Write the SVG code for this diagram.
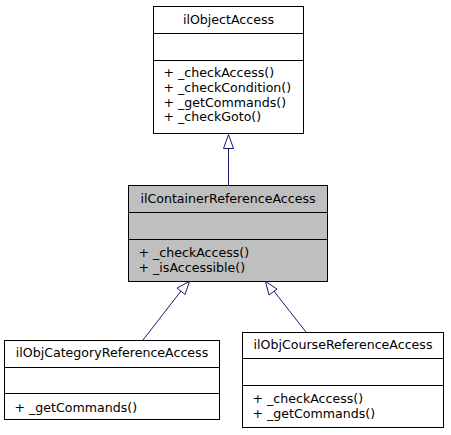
<svg xmlns="http://www.w3.org/2000/svg" width="451" height="435" viewBox="0 0 451 435">
<style>
.box{fill:#ffffff;stroke:#000000;stroke-width:1}
.cur{fill:#bfbfbf;stroke:#000000;stroke-width:1}
.sep{stroke:#000000;stroke-width:1}
text{font-family:"DejaVu Sans",sans-serif;font-size:12.6px;fill:#000000}
.t{text-anchor:middle}
.edge{stroke:#191970;stroke-width:1;fill:none}
.head{fill:#ffffff;stroke:#191970;stroke-width:1}
</style>
<rect width="451" height="435" fill="#ffffff"/>
<g id="ilObjectAccess">
<rect class="box" x="153.5" y="6.5" width="150" height="127"/>
<line class="sep" x1="153.5" y1="33.5" x2="303.5" y2="33.5"/>
<line class="sep" x1="153.5" y1="60.5" x2="303.5" y2="60.5"/>
<text class="t" x="228.5" y="24">ilObjectAccess</text>
<text x="163.5" y="77">+ _checkAccess()</text>
<text x="163.5" y="92">+ _checkCondition()</text>
<text x="163.5" y="106.5">+ _getCommands()</text>
<text x="163.5" y="121">+ _checkGoto()</text>
</g>
<g id="ilContainerReferenceAccess">
<rect class="cur" x="128.5" y="185.5" width="199" height="96"/>
<line class="sep" x1="128.5" y1="212.5" x2="327.5" y2="212.5"/>
<line class="sep" x1="128.5" y1="239.5" x2="327.5" y2="239.5"/>
<text class="t" x="228" y="203">ilContainerReferenceAccess</text>
<text x="138.5" y="257">+ _checkAccess()</text>
<text x="138.5" y="272">+ _isAccessible()</text>
</g>
<g id="ilObjCategoryReferenceAccess">
<rect class="box" x="4.5" y="340.5" width="215" height="79"/>
<line class="sep" x1="4.5" y1="367.5" x2="219.5" y2="367.5"/>
<line class="sep" x1="4.5" y1="393.5" x2="219.5" y2="393.5"/>
<text class="t" x="112" y="357">ilObjCategoryReferenceAccess</text>
<text x="14.5" y="412">+ _getCommands()</text>
</g>
<g id="ilObjCourseReferenceAccess">
<rect class="box" x="242.5" y="332.5" width="201" height="95"/>
<line class="sep" x1="242.5" y1="358.5" x2="443.5" y2="358.5"/>
<line class="sep" x1="242.5" y1="385.5" x2="443.5" y2="385.5"/>
<text class="t" x="343" y="349">ilObjCourseReferenceAccess</text>
<text x="252.5" y="403">+ _checkAccess()</text>
<text x="252.5" y="418">+ _getCommands()</text>
</g>
<g id="connectors">
<line class="edge" x1="228.5" y1="185" x2="228.5" y2="148"/>
<polygon class="head" points="228.5,134.5 223.5,148.5 233.5,148.5"/>
<line class="edge" x1="143" y1="340" x2="181" y2="291"/>
<polygon class="head" points="189.5,281.5 177,288 185,294.5"/>
<line class="edge" x1="306" y1="332" x2="273" y2="290"/>
<polygon class="head" points="265.5,281.5 269,295 277,289"/>
</g>
</svg>
